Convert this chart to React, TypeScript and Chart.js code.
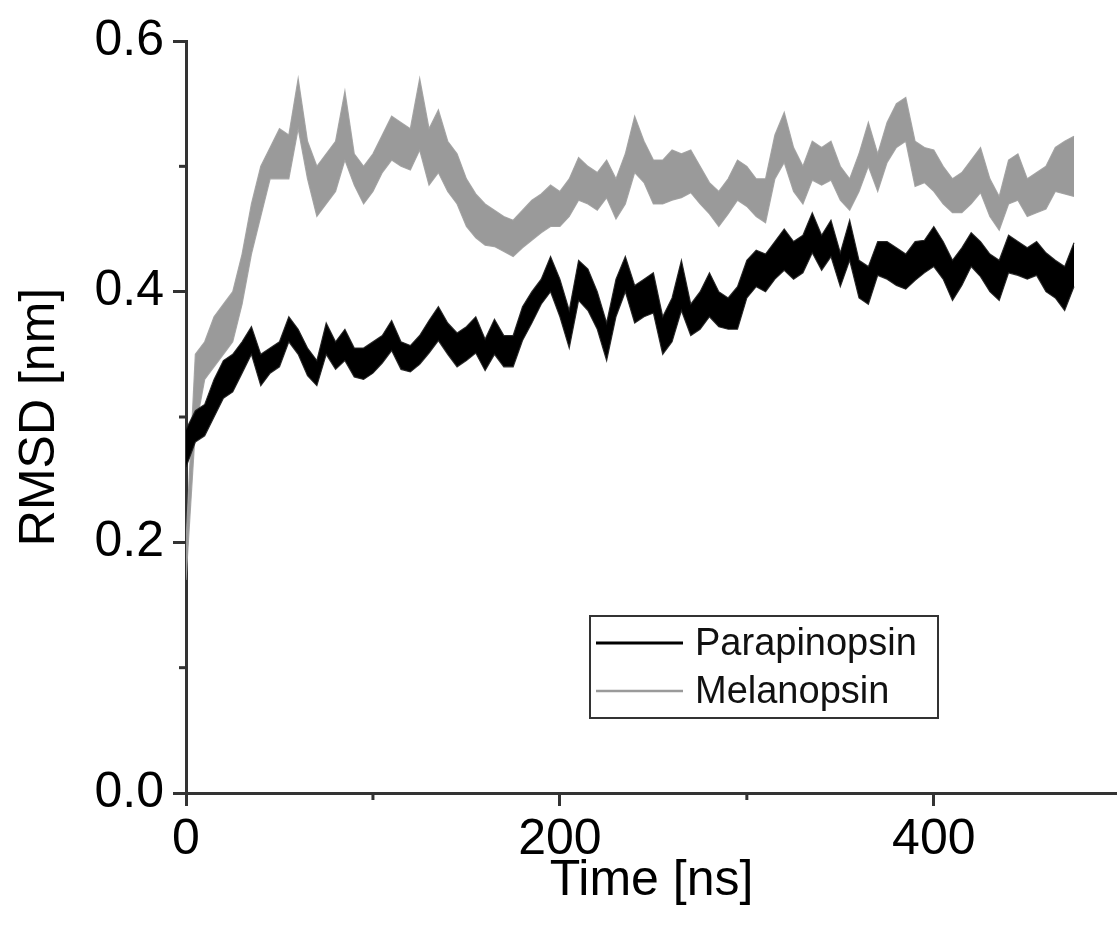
import React, { useEffect, useRef } from "react";
import { Chart, registerables } from "chart.js";

Chart.register(...registerables);

// Sample times (ns)
const timeNs = [
  0, 5, 10, 15, 20, 25, 30, 35, 40, 45, 50, 55, 60, 65, 70, 75, 80, 85, 90, 95,
  100, 105, 110, 115, 120, 125, 130, 135, 140, 145, 150, 155, 160, 165, 170, 175, 180, 185, 190, 195,
  200, 205, 210, 215, 220, 225, 230, 235, 240, 245, 250, 255, 260, 265, 270, 275, 280, 285, 290, 295,
  300, 305, 310, 315, 320, 325, 330, 335, 340, 345, 350, 355, 360, 365, 370, 375, 380, 385, 390, 395,
  400, 405, 410, 415, 420, 425, 430, 435, 440, 445, 450, 455, 460, 465, 470, 475,
];

// Parapinopsin RMSD band (upper / lower envelope, nm)
const paraHigh = [
  0.29, 0.305, 0.31, 0.33, 0.345, 0.35, 0.36, 0.372, 0.35, 0.355, 0.36, 0.38, 0.37, 0.355, 0.345, 0.375, 0.36, 0.37, 0.355, 0.355,
  0.36, 0.365, 0.377, 0.36, 0.357, 0.365, 0.377, 0.388, 0.375, 0.367, 0.372, 0.38, 0.362, 0.378, 0.365, 0.365, 0.388, 0.4, 0.41, 0.428,
  0.41, 0.385, 0.425, 0.418, 0.4, 0.375, 0.41, 0.428, 0.405, 0.41, 0.415, 0.38, 0.395, 0.425, 0.39, 0.4, 0.415, 0.4, 0.395, 0.404,
  0.425, 0.433, 0.43, 0.44, 0.45, 0.44, 0.445, 0.463, 0.445, 0.457, 0.431, 0.457, 0.425, 0.42, 0.44, 0.44, 0.435, 0.43, 0.44, 0.441,
  0.452, 0.44, 0.425, 0.435, 0.447, 0.44, 0.43, 0.425, 0.445, 0.44, 0.435, 0.44, 0.431, 0.425, 0.42, 0.439,
];
const paraLow = [
  0.26, 0.28, 0.285, 0.3, 0.315, 0.32, 0.335, 0.35, 0.325, 0.335, 0.34, 0.36, 0.35, 0.333, 0.325, 0.35, 0.338, 0.345, 0.332, 0.33,
  0.335, 0.343, 0.353, 0.338, 0.336, 0.342, 0.351, 0.361, 0.35, 0.34, 0.345, 0.351, 0.337, 0.35, 0.34, 0.34, 0.361, 0.375, 0.39, 0.4,
  0.38, 0.355, 0.393, 0.385, 0.37, 0.345, 0.38, 0.4, 0.375, 0.38, 0.383, 0.35, 0.36, 0.385, 0.365, 0.37, 0.38, 0.372, 0.37, 0.37,
  0.395, 0.404, 0.4, 0.41, 0.417, 0.41, 0.415, 0.431, 0.417, 0.428, 0.404, 0.425, 0.395, 0.39, 0.413, 0.41, 0.405, 0.402, 0.409, 0.415,
  0.42, 0.41, 0.393, 0.405, 0.42, 0.412, 0.4, 0.393, 0.415, 0.413, 0.41, 0.413, 0.4, 0.395, 0.385, 0.404,
];

// Melanopsin RMSD band (upper / lower envelope, nm)
const melHigh = [
  0.2, 0.35, 0.36, 0.38, 0.39, 0.4, 0.43, 0.47, 0.5, 0.515, 0.53, 0.525, 0.57, 0.52, 0.5, 0.51, 0.52, 0.56, 0.51, 0.5,
  0.51, 0.525, 0.54, 0.535, 0.53, 0.57, 0.53, 0.545, 0.52, 0.51, 0.49, 0.478, 0.47, 0.465, 0.46, 0.457, 0.465, 0.473, 0.478, 0.485,
  0.48, 0.49, 0.507, 0.5, 0.495, 0.505, 0.49, 0.51, 0.54, 0.52, 0.505, 0.505, 0.513, 0.51, 0.513, 0.5, 0.487, 0.48, 0.49, 0.505,
  0.5, 0.49, 0.49, 0.525, 0.543, 0.515, 0.5, 0.52, 0.515, 0.52, 0.5, 0.49, 0.51, 0.535, 0.51, 0.535, 0.55, 0.555, 0.52, 0.515,
  0.513, 0.5, 0.49, 0.495, 0.505, 0.515, 0.49, 0.476, 0.505, 0.51, 0.49, 0.495, 0.5, 0.515, 0.52, 0.524,
];
const melLow = [
  0.17, 0.29, 0.33, 0.34, 0.35, 0.36, 0.39, 0.43, 0.46, 0.49, 0.49, 0.49, 0.53, 0.49, 0.46, 0.47, 0.48, 0.505, 0.485, 0.47,
  0.48, 0.495, 0.505, 0.5, 0.497, 0.513, 0.485, 0.495, 0.48, 0.47, 0.452, 0.443, 0.437, 0.436, 0.432, 0.428, 0.435, 0.441, 0.447, 0.452,
  0.452, 0.46, 0.473, 0.47, 0.465, 0.475, 0.458, 0.47, 0.495, 0.487, 0.47, 0.47, 0.473, 0.475, 0.479, 0.47, 0.462, 0.452, 0.462, 0.473,
  0.468, 0.46, 0.455, 0.49, 0.503, 0.48, 0.47, 0.489, 0.485, 0.489, 0.473, 0.465, 0.48, 0.5, 0.48, 0.503, 0.515, 0.52, 0.484, 0.487,
  0.48, 0.47, 0.463, 0.463, 0.47, 0.479, 0.46, 0.449, 0.47, 0.473, 0.46, 0.463, 0.466, 0.48, 0.478, 0.476,
];

const seriesNames = ["Parapinopsin", "Melanopsin"];
const seriesColors = ["#000000", "#9a9a9a"];
const edgeColors = ["rgba(30,30,30,0.9)", "rgba(160,160,160,0.9)"];
const xMinorTicks = [100, 300];
const yMinorTicks = [0.1, 0.3, 0.5];
const xTitle = "Time [ns]";
const yTitle = "RMSD [nm]";

const FONT = "'Liberation Sans', Arial, Helvetica, sans-serif";
const AXIS_COLOR = "#333333";

const softenPlugin = {
  id: "soften",
  beforeDatasetsDraw(chart: any) {
    chart.ctx.save();
    chart.ctx.filter = "blur(0.7px)";
  },
  afterDatasetsDraw(chart: any) {
    chart.ctx.restore();
  },
};

const minorTickPlugin = {
  id: "minorTicks",
  afterDraw(chart: any) {
    const { ctx, scales, chartArea } = chart;
    ctx.save();
    ctx.strokeStyle = AXIS_COLOR;
    ctx.lineWidth = 3;
    xMinorTicks.forEach((v) => {
      const px = scales.x.getPixelForValue(v);
      ctx.beginPath();
      ctx.moveTo(px, chartArea.bottom);
      ctx.lineTo(px, chartArea.bottom + 7);
      ctx.stroke();
    });
    yMinorTicks.forEach((v) => {
      const py = scales.y.getPixelForValue(v);
      ctx.beginPath();
      ctx.moveTo(chartArea.left, py);
      ctx.lineTo(chartArea.left - 7, py);
      ctx.stroke();
    });
    ctx.restore();
  },
};

const legendBoxPlugin = {
  id: "legendBox",
  afterDraw(chart: any) {
    const { ctx, chartArea } = chart;
    const left = chartArea.left + 404;
    const top = chartArea.top + 575;
    const w = 348;
    const h = 102;
    ctx.save();
    ctx.fillStyle = "#ffffff";
    ctx.fillRect(left, top, w, h);
    ctx.strokeStyle = AXIS_COLOR;
    ctx.lineWidth = 2;
    ctx.strokeRect(left, top, w, h);
    const rows = [top + 27, top + 75];
    seriesNames.forEach((name, i) => {
      ctx.strokeStyle = seriesColors[i];
      ctx.lineWidth = i === 0 ? 3 : 2.5;
      ctx.beginPath();
      ctx.moveTo(left + 6, rows[i]);
      ctx.lineTo(left + 93, rows[i]);
      ctx.stroke();
      ctx.fillStyle = "#111111";
      ctx.font = `38px ${FONT}`;
      ctx.textBaseline = "middle";
      ctx.textAlign = "left";
      ctx.fillText(name, left + 105, rows[i] + 2);
    });
    ctx.restore();
  },
};

function band(high: number[], low: number[], i: number, order: number) {
  return [
    {
      label: seriesNames[i] + " upper",
      data: timeNs.map((t, k) => ({ x: t, y: high[k] })),
      borderColor: edgeColors[i],
      borderWidth: 1.2,
      pointRadius: 0,
      fill: false,
      tension: 0,
      order,
    },
    {
      label: seriesNames[i] + " lower",
      data: timeNs.map((t, k) => ({ x: t, y: low[k] })),
      borderColor: edgeColors[i],
      backgroundColor: seriesColors[i],
      borderWidth: 1.2,
      pointRadius: 0,
      fill: "-1",
      tension: 0,
      order,
    },
  ];
}

export default function App() {
  const canvasRef = useRef<HTMLCanvasElement | null>(null);

  useEffect(() => {
    if (!canvasRef.current) return;
    const chart = new Chart(canvasRef.current, {
      type: "line",
      data: {
        datasets: [
          ...band(paraHigh, paraLow, 0, 0),
          ...band(melHigh, melLow, 1, 1),
        ] as any,
      },
      options: {
        responsive: false,
        animation: false,
        devicePixelRatio: 1,
        layout: { padding: { top: 41, right: 0, left: 0, bottom: 0 } },
        plugins: {
          legend: { display: false },
          tooltip: { enabled: false },
        },
        scales: {
          x: {
            type: "linear",
            min: 0,
            max: 498,
            afterFit: (s: any) => {
              s.height = 133;
            },
            border: { color: AXIS_COLOR, width: 3 },
            grid: {
              drawOnChartArea: false,
              drawTicks: true,
              tickLength: 13,
              tickColor: AXIS_COLOR,
              tickWidth: 3,
            },
            ticks: {
              stepSize: 200,
              includeBounds: false,
              padding: 4,
              color: "#000",
              font: { family: FONT, size: 50 },
              maxRotation: 0,
              callback: (v: any) => String(v),
            },
            title: {
              display: true,
              text: xTitle,
              color: "#000",
              font: { family: FONT, size: 50 },
              padding: { top: 0, bottom: 15 },
            },
          },
          y: {
            type: "linear",
            min: 0,
            max: 0.6,
            afterFit: (s: any) => {
              s.width = 186;
            },
            border: { color: AXIS_COLOR, width: 3 },
            grid: {
              drawOnChartArea: false,
              drawTicks: true,
              tickLength: 13,
              tickColor: AXIS_COLOR,
              tickWidth: 3,
            },
            ticks: {
              stepSize: 0.2,
              padding: 9,
              color: "#000",
              font: { family: FONT, size: 50 },
              callback: (v: any) => Number(v).toFixed(1),
            },
            title: {
              display: true,
              text: yTitle,
              color: "#000",
              font: { family: FONT, size: 50 },
              padding: { top: 10, bottom: 0 },
            },
          },
        },
      } as any,
      plugins: [softenPlugin, minorTickPlugin, legendBoxPlugin],
    });
    return () => chart.destroy();
  }, []);

  return (
    <div style={{ position: "fixed", left: 0, top: 0, width: 1117, height: 926, background: "#fff" }}>
      <canvas ref={canvasRef} width={1117} height={926} style={{ display: "block" }} />
    </div>
  );
}
